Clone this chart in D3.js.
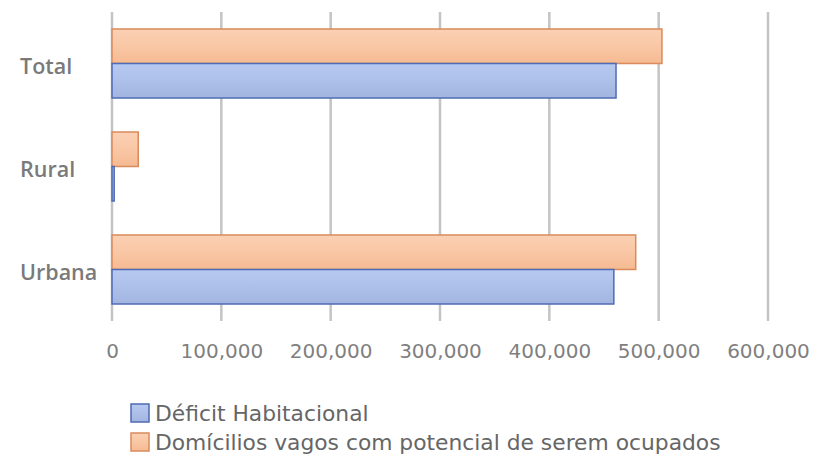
<!DOCTYPE html>
<html>
<head>
<meta charset="utf-8">
<script src="https://cdn.jsdelivr.net/npm/d3@7"></script>
<style>
  html, body { margin: 0; padding: 0; background: #fff; }
  svg { display: block; font-family: "DejaVu Sans", sans-serif; }
</style>
</head>
<body>
<svg id="chart" width="815" height="459"></svg>
<script>
// Categories (top to bottom) and the two series
const categories = ["Total", "Rural", "Urbana"];
const deficitHabitacional = [461000, 2000, 459000];
const domiciliosVagos = [503000, 24000, 479000];
const tickValues = [0, 100000, 200000, 300000, 400000, 500000, 600000];
const seriesNames = ["Déficit Habitacional", "Domícilios vagos com potencial de serem ocupados"];

const series = [
  { key: "vagos", name: seriesNames[1], values: domiciliosVagos, fill: "url(#gOrange)", stroke: "#d98b5c" },
  { key: "deficit", name: seriesNames[0], values: deficitHabitacional, fill: "url(#gBlue)", stroke: "#4e6bb3" }
];

const svg = d3.select("#chart");

// Gradients for the bar fills
const defs = svg.append("defs");
function grad(id, stops) {
  const g = defs.append("linearGradient").attr("id", id)
    .attr("x1", 0).attr("y1", 0).attr("x2", 0).attr("y2", 1);
  stops.forEach(([o, c]) => g.append("stop").attr("offset", o).attr("stop-color", c));
}
grad("gOrange", [[0, "#fbd0b4"], [0.5, "#f9c7a5"], [1, "#f5ba92"]]);
grad("gBlue", [[0, "#b7c9f1"], [0.5, "#adc0e9"], [1, "#a2b5e0"]]);

const x = d3.scaleLinear().domain([0, 600000]).range([112, 768]);
const y = d3.scaleBand().domain(categories).range([12, 321])
  .paddingInner(0.33).paddingOuter(0.165);
const ySub = d3.scaleBand().domain(series.map(s => s.key)).range([0, y.bandwidth()]);

// Vertical gridlines
svg.append("g").selectAll("line").data(tickValues).join("line")
  .attr("x1", d => x(d)).attr("x2", d => x(d))
  .attr("y1", 12).attr("y2", 321)
  .attr("stroke", "#c4c4c4").attr("stroke-width", 2.5);

// Bars
series.forEach(s => {
  svg.append("g").selectAll("rect").data(categories).join("rect")
    .attr("x", x(0))
    .attr("y", (c) => y(c) + ySub(s.key))
    .attr("width", (c, i) => x(s.values[i]) - x(0))
    .attr("height", ySub.bandwidth())
    .attr("fill", s.fill)
    .attr("stroke", s.stroke)
    .attr("stroke-width", 1.5);
});

// Value axis labels
const xAxis = d3.axisBottom(x).tickValues(tickValues)
  .tickFormat(d3.format(",")).tickSize(0).tickPadding(0);
const gx = svg.append("g").attr("transform", "translate(0,344)").call(xAxis);
gx.select(".domain").remove();
gx.selectAll("text")
  .attr("fill", "#7f7f7f").attr("font-size", 20)
  .attr("font-family", "'DejaVu Sans', sans-serif")
  .attr("dy", "0.71em");

// Category labels
svg.append("g").selectAll("text").data(categories).join("text")
  .attr("x", 20)
  .attr("y", c => y(c) + y.bandwidth() / 2 + 3)
  .attr("dy", "0.35em")
  .attr("fill", "#7a7a7a")
  .attr("font-family", "'Open Sans', sans-serif")
  .attr("font-size", 21.5)
  .attr("font-weight", 600)
  .text(c => c);

// Legend
const legendItems = [
  { name: seriesNames[0], fill: "url(#gBlue)", stroke: "#4e6bb3" },
  { name: seriesNames[1], fill: "url(#gOrange)", stroke: "#d98b5c" }
];
const lg = svg.append("g").selectAll("g").data(legendItems).join("g")
  .attr("transform", (d, i) => `translate(131,${404 + i * 29})`);
lg.append("rect").attr("width", 18).attr("height", 18)
  .attr("fill", d => d.fill).attr("stroke", d => d.stroke).attr("stroke-width", 1.5);
lg.append("text").attr("x", 24).attr("y", 9).attr("dy", "0.35em")
  .attr("fill", "#666666").attr("font-size", 21.8)
  .text(d => d.name);
</script>
</body>
</html>
